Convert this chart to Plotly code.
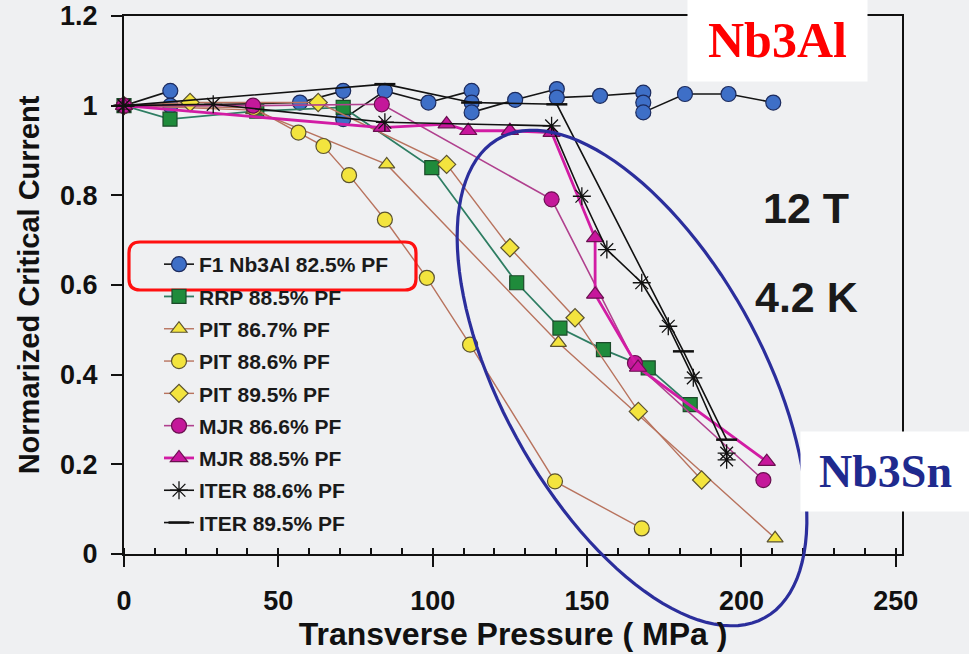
import numpy as np
import plotly.graph_objects as go

# ---------------- data ----------------
f1_x = [0, 15, 15, 57, 71, 71, 84.5, 98.6, 112.6, 112.6, 112.6, 126.7, 140.2, 140.2, 154.2, 168.2, 168.2, 168.2, 181.7, 195.8, 210.3]
f1_y = [1.0, 1.033, 1.0, 1.007, 1.033, 0.970, 1.033, 1.007, 1.033, 1.007, 0.985, 1.013, 1.037, 1.018, 1.022, 1.029, 1.007, 0.985, 1.026, 1.026, 1.007]

rrp_x = [0, 14.9, 43, 71, 99.7, 127.2, 141.2, 155.3, 169.8, 183.4]
rrp_y = [1.0, 0.970, 0.988, 0.996, 0.862, 0.605, 0.504, 0.456, 0.415, 0.333]

pit867_x = [0, 42, 85.1, 140.7, 210.9]
pit867_y = [1.0, 0.99, 0.869, 0.471, 0.035]

pit886_x = [0, 42, 56.5, 64.6, 72.9, 84.5, 98.1, 112.1, 139.6, 167.7]
pit886_y = [1.0, 0.995, 0.940, 0.910, 0.845, 0.746, 0.616, 0.467, 0.162, 0.057]

pit895_x = [0, 21.4, 62.9, 104.5, 125.0, 146.1, 166.6, 187.1]
pit895_y = [1.0, 1.007, 1.007, 0.869, 0.683, 0.527, 0.318, 0.165]

mjr866_x = [0, 41.8, 83.5, 138.5, 165.5, 207.1]
mjr866_y = [1.0, 1.0, 1.003, 0.791, 0.426, 0.165]

mjr885_x = [0, 83.5, 104.5, 111.5, 125.0, 138.5, 152.6, 152.6, 166.5, 208.2]
mjr885_y = [1.0, 0.951, 0.959, 0.944, 0.944, 0.940, 0.705, 0.579, 0.416, 0.206]

iter886_x = [0, 28.9, 84.5, 138.5, 148.3, 156.4, 167.7, 176.3, 184.4, 195.2, 195.2]
iter886_y = [1.0, 1.003, 0.963, 0.955, 0.798, 0.679, 0.605, 0.508, 0.393, 0.225, 0.21]

iter895_x = [0, 84.5, 112.6, 140.2, 181.2, 195.2]
iter895_y = [1.0, 1.048, 1.007, 1.003, 0.452, 0.255]

x_ticks = [0, 50, 100, 150, 200, 250]
y_ticks = [0, 0.2, 0.4, 0.6, 0.8, 1.0, 1.2]
y_tick_text = ["0", "0.2", "0.4", "0.6", "0.8", "1", "1.2"]

# ---------------- figure ----------------
W, H = 969, 654
ML, MR, MT, MB = 124, 67, 16, 100
PW, PH = W - ML - MR, H - MT - MB

def px2paper(px, py):
    return (px - ML) / PW, (H - MB - py) / PH

yellow = "#f3e43e"
ydark = "#5a5230"
brown = "#b8735e"

series = [
    dict(name="F1 Nb3Al 82.5% PF", x=f1_x, y=f1_y, symbol="circle", fill="#3e6fc7", edge="#1c2b5e", lc="#151515", lw=1.6, size=15),
    dict(name="RRP 88.5% PF", x=rrp_x, y=rrp_y, symbol="square", fill="#1f8b3b", edge="#1c4a2a", lc="#2e7d62", lw=1.8, size=14),
    dict(name="PIT 86.7% PF", x=pit867_x, y=pit867_y, symbol="triangle-up", fill=yellow, edge=ydark, lc=brown, lw=1.4, size=14),
    dict(name="PIT 88.6% PF", x=pit886_x, y=pit886_y, symbol="circle", fill=yellow, edge=ydark, lc=brown, lw=1.4, size=15),
    dict(name="PIT 89.5% PF", x=pit895_x, y=pit895_y, symbol="diamond", fill=yellow, edge=ydark, lc=brown, lw=1.4, size=14),
    dict(name="MJR 86.6% PF", x=mjr866_x, y=mjr866_y, symbol="circle", fill="#c4189a", edge="#6a1050", lc="#b0408e", lw=1.6, size=15),
    dict(name="MJR 88.5% PF", x=mjr885_x, y=mjr885_y, symbol="triangle-up", fill="#c8169c", edge="#6a1050", lc="#d21ca4", lw=2.8, size=15),
    dict(name="ITER 88.6% PF", x=iter886_x, y=iter886_y, symbol="asterisk", fill="#111111", edge="#111111", lc="#111111", lw=1.6, size=15),
    dict(name="ITER 89.5% PF", x=iter895_x, y=iter895_y, symbol="line-ew", fill="#111111", edge="#111111", lc="#111111", lw=1.6, size=15),
]

fig = go.Figure()
for i, s in enumerate(series):
    ew = 1.2
    if s["symbol"] == "asterisk":
        ew = 1.3
    if s["symbol"] == "line-ew":
        ew = 2.5
    fig.add_trace(go.Scatter(
        x=s["x"], y=s["y"], name=s["name"], mode="lines+markers",
        legendgroup=f"g{i}",
        line=dict(color=s["lc"], width=s["lw"]),
        marker=dict(symbol=s["symbol"], size=s["size"], color=s["fill"],
                    line=dict(color=s["edge"], width=ew)),
        cliponaxis=False,
    ))

bg = "#eff0f2"
tickfont = dict(family="Liberation Sans, Arial, sans-serif", size=27, color="#111111", weight="bold")

fig.update_layout(
    width=W, height=H,
    margin=dict(l=ML, r=MR, t=MT, b=MB, pad=0, autoexpand=False),
    paper_bgcolor=bg, plot_bgcolor=bg,
    showlegend=True,
    legend=dict(
        x=px2paper(159, 0)[0], y=px2paper(0, 244)[1], xanchor="left", yanchor="top",
        bgcolor="rgba(0,0,0,0)", borderwidth=0, tracegroupgap=2,
        font=dict(family="Liberation Sans, Arial, sans-serif", size=21, color="#1a1a1a", weight="bold"),
    ),
    xaxis=dict(
        range=[0, 252], tickvals=x_ticks, showgrid=False, zeroline=False, automargin=True,
        showline=True, linecolor="#111111", linewidth=2, mirror=True,
        ticks="outside", ticklen=11, tickwidth=2, tickcolor="#111111",
        minor=dict(dtick=10, ticks="inside", ticklen=6, tickwidth=1.5, tickcolor="#111111", showgrid=False),
        tickfont=tickfont, ticklabelstandoff=11,
        title=dict(text="Transverse Pressure ( MPa )", standoff=4,
                   font=dict(family="Liberation Sans, Arial, sans-serif", size=32, color="#111111", weight="bold")),
    ),
    yaxis=dict(
        range=[0, 1.2], tickvals=y_ticks, ticktext=y_tick_text, showgrid=False, zeroline=False, automargin=True,
        showline=True, linecolor="#111111", linewidth=2, mirror=True,
        ticks="outside", ticklen=11, tickwidth=2, tickcolor="#111111",
        tickfont=tickfont, ticklabelstandoff=8,
        title=dict(text="Normarized Critical Current", standoff=12,
                   font=dict(family="Liberation Sans, Arial, sans-serif", size=29, color="#111111", weight="bold")),
    ),
)

# ---------------- decorations ----------------
# hand-drawn ellipse around the Nb3Sn curves
cx, cy, a, b, th = 632, 378, 274, 130, np.deg2rad(61)
t = np.linspace(0, 2 * np.pi, 120)
ex = cx + a * np.cos(t) * np.cos(th) - b * np.sin(t) * np.sin(th)
ey = cy + a * np.cos(t) * np.sin(th) + b * np.sin(t) * np.cos(th)
pts = [px2paper(u, v) for u, v in zip(ex, ey)]
path = "M " + " L ".join(f"{p[0]:.4f},{p[1]:.4f}" for p in pts) + " Z"
fig.add_shape(type="path", xref="paper", yref="paper", path=path,
              line=dict(color="#2b2e9c", width=3.2), layer="above")

# red rounded rectangle around the Nb3Al legend entry
x0, y0, x1, y1, r = 129, 242, 416, 290, 11
corner = [
    (x0 + r, y0), (x1 - r, y0), (x1, y0), (x1, y0 + r), (x1, y1 - r), (x1, y1), (x1 - r, y1),
    (x0 + r, y1), (x0, y1), (x0, y1 - r), (x0, y0 + r), (x0, y0), (x0 + r, y0),
]
P = [px2paper(u, v) for u, v in corner]
f = lambda p: f"{p[0]:.4f},{p[1]:.4f}"
rpath = (f"M {f(P[0])} L {f(P[1])} Q {f(P[2])} {f(P[3])} L {f(P[4])} Q {f(P[5])} {f(P[6])} "
         f"L {f(P[7])} Q {f(P[8])} {f(P[9])} L {f(P[10])} Q {f(P[11])} {f(P[12])} Z")
fig.add_shape(type="path", xref="paper", yref="paper", path=rpath,
              line=dict(color="#ff1010", width=3.2), layer="above")

serif = "Liberation Serif, Times New Roman, serif"
nx, ny = px2paper((689 + 866) / 2, 40)
fig.add_annotation(x=nx, y=ny, xref="paper", yref="paper", text="Nb3Al", showarrow=False,
                   font=dict(family=serif, size=50, color="#ff0000", weight="bold"),
                   bgcolor="white", width=177, height=80, xanchor="center", yanchor="middle")
sx, sy = px2paper((802 + 969) / 2, 471)
fig.add_annotation(x=sx, y=sy, xref="paper", yref="paper", text="Nb3Sn", showarrow=False,
                   font=dict(family=serif, size=46, color="#1f2a8e", weight="bold"),
                   bgcolor="white", width=167, height=77, xanchor="center", yanchor="middle")

bold = dict(family="Liberation Sans, Arial, sans-serif", size=43, color="#1a1a1a", weight="bold")
tx, ty = px2paper(761, 208)
fig.add_annotation(x=tx, y=ty, xref="paper", yref="paper", text="12 T", showarrow=False,
                   font=bold, xanchor="left", yanchor="middle")
tx, ty = px2paper(753, 297)
fig.add_annotation(x=tx, y=ty, xref="paper", yref="paper", text="4.2 K", showarrow=False,
                   font=bold, xanchor="left", yanchor="middle")

fig.write_html("out.html")
